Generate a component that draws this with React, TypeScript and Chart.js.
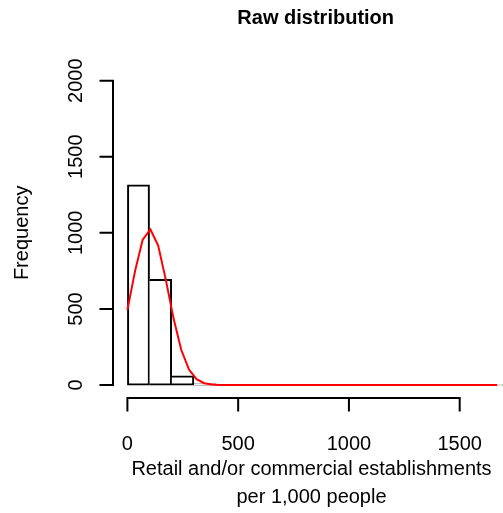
import React, { useEffect, useRef } from "react";
import { Chart, registerables } from "chart.js";

Chart.register(...registerables);

// ---- data ----
const chartTitle = "Raw distribution";
const xTitleLines = ["Retail and/or commercial establishments", "per 1,000 people"];
const yTitle = "Frequency";

const binWidth = 100;
const binStarts = [0, 100, 200, 300, 400, 500, 600, 700, 800, 900, 1000, 1100, 1200, 1300, 1400, 1500, 1600];
const binCounts = [1315, 695, 60, 8, 5, 0, 0, 0, 0, 0, 0, 0, 0, 0, 0, 0, 1];

const curveX = [0, 35, 69, 104, 139, 174, 208, 243, 278, 312, 347, 382, 416, 451, 486, 1669];
const curveY = [493, 752, 955, 1022, 916, 688, 440, 232, 102, 39, 12, 3, 1, 0, 0, 0];

const xTicks = [0, 500, 1000, 1500];
const yTicks = [0, 500, 1000, 1500, 2000];

const xRange = [-65, 1765];
const yRange = [-85, 2085];

const FONT = '"Liberation Sans", Arial, Helvetica, sans-serif';

const rAxesPlugin = {
  id: "rAxes",
  afterDraw(chart: any) {
    const { ctx, chartArea, scales } = chart;
    const xs = scales.x;
    const ys = scales.y;
    const tickLen = 13.5;
    ctx.save();
    ctx.strokeStyle = "#000";
    ctx.fillStyle = "#000";
    ctx.lineWidth = 2;

    // x axis
    const ay = chartArea.bottom;
    const x0 = xs.getPixelForValue(xTicks[0]);
    const x1 = xs.getPixelForValue(xTicks[xTicks.length - 1]);
    ctx.beginPath();
    ctx.moveTo(x0, ay + tickLen);
    ctx.lineTo(x0, ay);
    ctx.lineTo(x1, ay);
    ctx.lineTo(x1, ay + tickLen);
    for (let i = 1; i < xTicks.length - 1; i++) {
      const px = xs.getPixelForValue(xTicks[i]);
      ctx.moveTo(px, ay);
      ctx.lineTo(px, ay + tickLen);
    }
    ctx.stroke();

    // y axis
    const ax = chartArea.left;
    const y0 = ys.getPixelForValue(yTicks[0]);
    const y1 = ys.getPixelForValue(yTicks[yTicks.length - 1]);
    ctx.beginPath();
    ctx.moveTo(ax - tickLen, y0);
    ctx.lineTo(ax, y0);
    ctx.lineTo(ax, y1);
    ctx.lineTo(ax - tickLen, y1);
    for (let i = 1; i < yTicks.length - 1; i++) {
      const py = ys.getPixelForValue(yTicks[i]);
      ctx.moveTo(ax, py);
      ctx.lineTo(ax - tickLen, py);
    }
    ctx.stroke();

    // tick labels
    ctx.font = `20px ${FONT}`;
    ctx.textAlign = "center";
    ctx.textBaseline = "alphabetic";
    xTicks.forEach((v) => {
      ctx.fillText(String(v), xs.getPixelForValue(v), ay + 51.5);
    });
    yTicks.forEach((v) => {
      ctx.save();
      ctx.translate(ax - 31.5, ys.getPixelForValue(v));
      ctx.rotate(-Math.PI / 2);
      ctx.fillText(String(v), 0, 0);
      ctx.restore();
    });

    // axis titles
    const cx = 311.5;
    ctx.fillText(xTitleLines[0], cx, ay + 76.5);
    ctx.fillText(xTitleLines[1], cx, ay + 104.5);

    ctx.save();
    ctx.translate(27.5, (chartArea.top + chartArea.bottom) / 2);
    ctx.rotate(-Math.PI / 2);
    ctx.fillText(yTitle, 0, 0);
    ctx.restore();

    ctx.restore();
  },
};

export default function App() {
  const ref = useRef<HTMLCanvasElement | null>(null);

  useEffect(() => {
    if (!ref.current) return;
    const last = binCounts.length - 1;
    const widths = binCounts.map((c, i) => ({
      top: 2,
      bottom: 2,
      left: i === 0 || c >= binCounts[i - 1] ? 2 : 0,
      right: i === last || c > binCounts[i + 1] ? 2 : 0,
    }));
    const chart = new Chart(ref.current, {
      type: "bar",
      data: {
        datasets: [
          {
            type: "line",
            data: curveX.map((x, i) => ({ x, y: curveY[i] })),
            borderColor: "#ff0000",
            borderWidth: 2,
            pointRadius: 0,
            tension: 0,
            fill: false,
            order: 0,
          } as any,
          {
            type: "bar",
            data: binStarts.map((s, i) => ({ x: s + binWidth / 2, y: binCounts[i] })),
            backgroundColor: "#ffffff",
            borderColor: "#000000",
            borderSkipped: false,
            borderWidth: (c: any) => widths[c.dataIndex],
            barPercentage: 1,
            categoryPercentage: 1,
            order: 1,
          } as any,
        ],
      },
      options: {
        responsive: false,
        animation: false,
        devicePixelRatio: 1,
        layout: { padding: { left: 113, right: 111.6, top: 0, bottom: 115 } },
        plugins: {
          legend: { display: false },
          tooltip: { enabled: false },
          title: {
            display: true,
            text: chartTitle,
            color: "#000",
            font: { family: FONT, size: 20, weight: "bold", lineHeight: 1.2 },
            padding: { top: 6, bottom: 37.7 },
          },
        },
        scales: {
          x: {
            type: "linear",
            min: xRange[0],
            max: xRange[1],
            display: false,
            offset: false,
            afterBuildTicks: (s: any) => {
              s.ticks = xTicks.map((v) => ({ value: v }));
            },
          },
          y: {
            type: "linear",
            min: yRange[0],
            max: yRange[1],
            display: false,
            afterBuildTicks: (s: any) => {
              s.ticks = yTicks.map((v) => ({ value: v }));
            },
          },
        },
      } as any,
      plugins: [rAxesPlugin],
    });
    return () => chart.destroy();
  }, []);

  return (
    <div style={{ position: "fixed", left: 0, top: 0, width: 503, height: 513, overflow: "hidden", background: "#fff" }}>
      <canvas ref={ref} width={630} height={513} style={{ display: "block", width: 630, height: 513 }} />
    </div>
  );
}
